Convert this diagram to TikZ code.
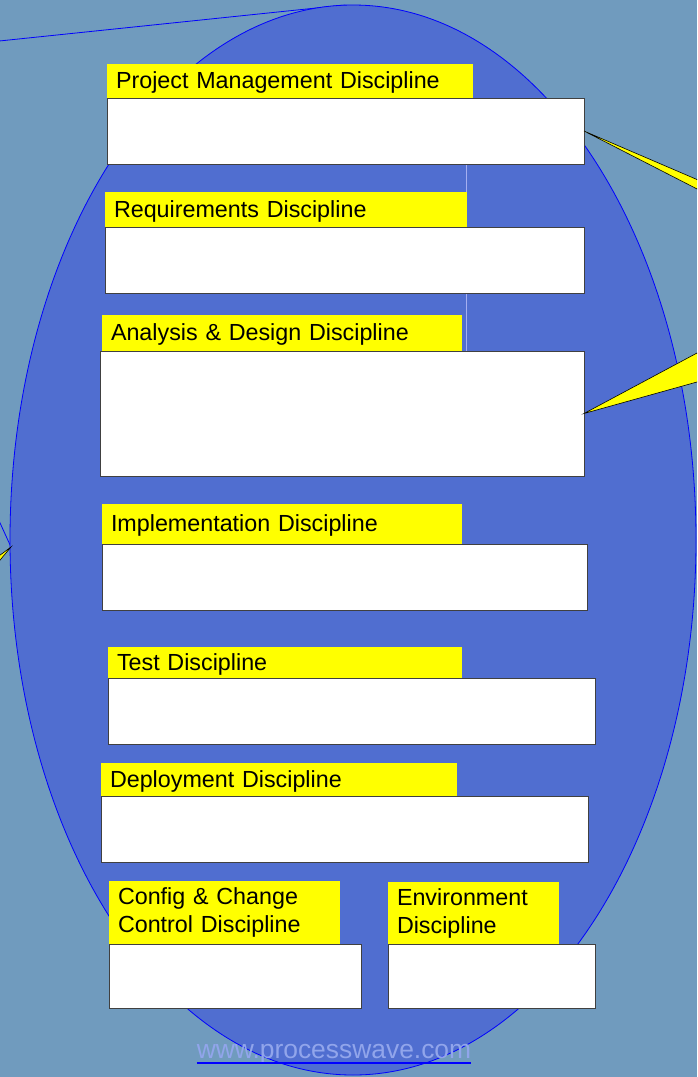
\documentclass[tikz,border=0pt]{standalone}
\usepackage{fontspec}
\setmainfont{Liberation Sans}
\usetikzlibrary{positioning}
\definecolor{bgblue}{RGB}{112,155,190}
\definecolor{ovalblue}{RGB}{80,110,208}
\definecolor{linkblue}{RGB}{145,165,235}
\definecolor{seam}{RGB}{165,175,240}
\definecolor{tagyellow}{RGB}{255,255,0}

\begin{document}
\begin{tikzpicture}[
x=1pt,y=-1pt,
tag/.style={
  fill=tagyellow,
  anchor=north west,
  inner xsep=9pt,
  inner ysep=0pt,
  outer sep=0pt,
  align=left,
  font=\fontsize{23.3}{28}\selectfont
},
tagone/.style={
  tag,
  text height=18pt,
  text depth=3pt
},
pane/.style={
  draw=black!75,
  line width=0.9pt,
  fill=white,
  anchor=north west,
  inner sep=0pt,
  outer sep=0pt
},
callout/.style={
  fill=tagyellow,
  draw=black,
  line width=0.6pt
}
]
\useasboundingbox (0,0) rectangle (697,1077);
\clip (0,0) rectangle (697,1077);
\fill[bgblue] (0,0) rectangle (697,1077);

% the oval and the lines running to it
\coordinate (top) at (345,5);
\coordinate (left) at (11,547);
\draw[blue,line width=0.8pt] (-20,43) -- (top);
\draw[blue,line width=0.8pt] (-20,479) -- (left);
\draw[blue,fill=ovalblue,line width=0.8pt] (353,540) ellipse [x radius=343pt, y radius=535pt];
\draw[seam] (466,164) -- (466,351);

% disciplines
\node[tagone,text width=348pt,minimum height=34pt] (pmT) at (107,64)
  {Project Management Discipline};
\node[pane,minimum width=477pt,minimum height=66pt] (pmB) at (pmT.south west) {};

\node[tagone,text width=344pt,minimum height=35pt] (reqT) at (105,192)
  {Requirements Discipline};
\node[pane,minimum width=479pt,minimum height=66pt] (reqB) at (reqT.south west) {};

\node[tagone,text width=342pt,minimum height=36pt] (adT) at (102,315)
  {Analysis \& Design Discipline};
\node[pane,minimum width=484pt,minimum height=125pt] (adB) at ([xshift=-2pt]adT.south west) {};

\node[tagone,text width=342pt,minimum height=40pt] (implT) at (102,504)
  {Implementation Discipline};
\node[pane,minimum width=485pt,minimum height=66pt] (implB) at (implT.south west) {};

\node[tagone,text width=336pt,minimum height=31pt] (testT) at (108,647)
  {Test Discipline};
\node[pane,minimum width=487pt,minimum height=66pt] (testB) at (testT.south west) {};

\node[tagone,text width=338pt,minimum height=33pt] (depT) at (101,763)
  {Deployment Discipline};
\node[pane,minimum width=487pt,minimum height=66pt] (depB) at (depT.south west) {};

\node[tag,text width=213pt,minimum height=63pt] (cfgT) at (109,881)
  {Config \& Change\\Control Discipline};
\node[pane,minimum width=252pt,minimum height=64pt] (cfgB) at (cfgT.south west) {};

\node[tag,text width=153pt,minimum height=62pt] (envT) at (388,882)
  {Environment\\Discipline};
\node[pane,minimum width=207pt,minimum height=64pt] (envB) at (envT.south west) {};

% callouts
\filldraw[callout] (pmB.east) -- (740,198) -- (740,211) -- cycle;
\filldraw[callout] (adB.east) -- (740,330) -- (740,370) -- cycle;
\filldraw[callout] (left) -- (-20,570) -- (-20,584) -- cycle;

\node[inner sep=0pt,anchor=base,text=linkblue,font=\fontsize{26.4}{31}\selectfont] (url) at (334,1058)
  {www.processwave.com};
\draw[blue,line width=2.5pt] ([yshift=-5pt]url.base west) -- ([yshift=-5pt]url.base east);
\end{tikzpicture}
\end{document}
